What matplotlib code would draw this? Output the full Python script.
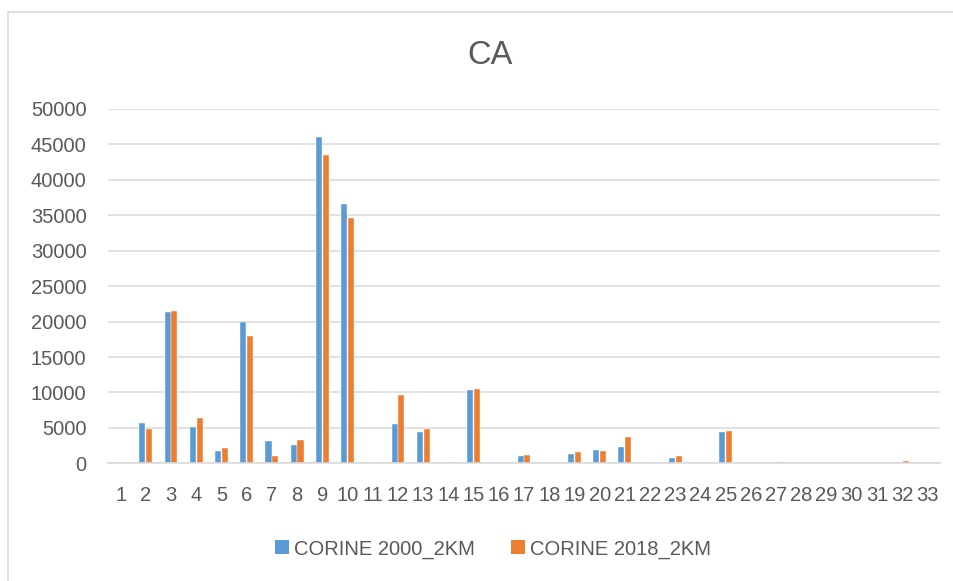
import matplotlib
matplotlib.use('Agg')
import matplotlib.pyplot as plt
from matplotlib.lines import Line2D
from matplotlib.patches import Patch
import numpy as np

categories = [str(i) for i in range(1, 34)]
corine_2000 = [0, 5650, 21400, 5100, 1700, 20000, 3150, 2600, 46000, 36600,
               150, 5500, 4450, 50, 10350, 20, 1000, 50, 1300, 1850,
               2350, 200, 750, 40, 4350, 30, 0, 40, 0, 20,
               20, 180, 0]
corine_2018 = [0, 4900, 21550, 6400, 2200, 17900, 1000, 3300, 43500, 34650,
               30, 9700, 4800, 150, 10500, 60, 1150, 30, 1600, 1800,
               3700, 20, 1000, 30, 4600, 30, 120, 30, 0, 20,
               20, 300, 0]
series_names = ['CORINE 2000_2KM', 'CORINE 2018_2KM']
y_ticks = list(range(0, 50001, 5000))

BLUE = '#5B9BD5'
ORANGE = '#ED7D31'
GRID = '#D9D9D9'
TEXT = '#595959'

plt.rcParams['font.family'] = ['Liberation Sans', 'DejaVu Sans']


def draw_chart():
    W, H = 954, 581
    fig = plt.figure(figsize=(W / 100, H / 100), dpi=100)
    ax = fig.add_axes([108 / W, (H - 463.3) / H, (940 - 108) / W, (463.3 - 109) / H])

    x = np.arange(len(categories))
    bw = 0.24
    ax.bar(x - 0.135, corine_2000, bw, color=BLUE, edgecolor='white', linewidth=0.3, zorder=3)
    ax.bar(x + 0.135, corine_2018, bw, color=ORANGE, edgecolor='white', linewidth=0.3, zorder=3)

    ax.set_xlim(-0.5, len(categories) - 0.5)
    ax.set_ylim(0, 50000)
    ax.set_xticks(x)
    ax.set_xticklabels(categories)
    ax.set_yticks(y_ticks)
    ax.set_yticklabels([str(v) for v in y_ticks])
    ax.tick_params(axis='both', length=0, labelsize=14.5, colors=TEXT)
    ax.tick_params(axis='x', pad=16.5)
    ax.tick_params(axis='y', pad=15.5)

    ax.grid(axis='y', color=GRID, linewidth=1.1, zorder=0)
    for side in ['top', 'right', 'left']:
        ax.spines[side].set_visible(False)
    ax.spines['bottom'].set_color(GRID)
    ax.spines['bottom'].set_linewidth(1.1)
    ax.spines['bottom'].set_zorder(4)

    fig.text(490 / W, 1 - 55 / H, 'CA', ha='center', va='center', fontsize=23.5, color=TEXT)

    handles = [Patch(facecolor=BLUE), Patch(facecolor=ORANGE)]
    fig.legend(handles, series_names, loc='center', bbox_to_anchor=(493 / W, 1 - 549 / H),
               ncol=2, frameon=False, fontsize=14.5, labelcolor=TEXT,
               handlelength=0.68, handleheight=0.68, handletextpad=0.25, columnspacing=1.8)

    # chart frame (top and left edges only)
    fig.add_artist(Line2D([8.5 / W, 1], [1 - 11.5 / H, 1 - 11.5 / H], color=GRID, linewidth=1.1))
    fig.add_artist(Line2D([8.5 / W, 8.5 / W], [0, 1 - 11.5 / H], color=GRID, linewidth=1.1))

    fig.savefig('out.png', dpi=100)


if __name__ == '__main__':
    draw_chart()
